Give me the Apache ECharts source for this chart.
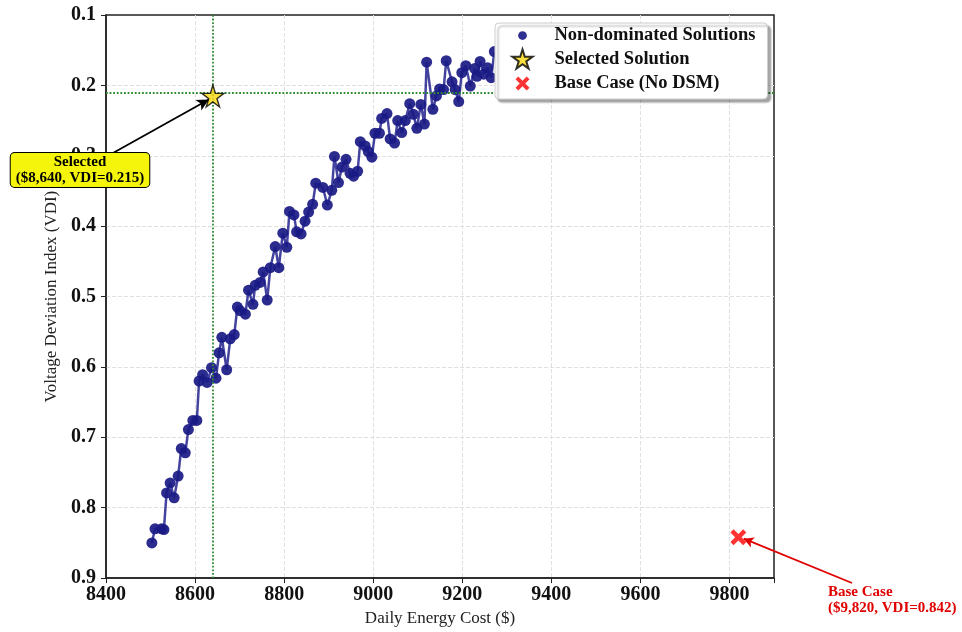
<!DOCTYPE html>
<html>
<head>
<meta charset="utf-8">
<script src="https://cdn.jsdelivr.net/npm/echarts@6/dist/echarts.min.js"></script>
<style>
  html, body { margin: 0; padding: 0; background: #fff; }
  #main { width: 962px; height: 632px; }
</style>
</head>
<body>
<div id="main"></div>
<script type="text/javascript">
  // Pareto front: daily cost vs VDI
  var cost = [8503,8510,8525,8530,8536,8544,8553,8562,8569,8578,8585,8595,8604,8609,8617,8627,8637,8647,8654,8660,
              8671,8679,8688,8695,8701,8713,8720,8730,8735,8746,8753,8762,8769,8780,8788,8797,8806,8812,8822,8828,
              8838,8847,8855,8864,8871,8887,8897,8907,8913,8922,8930,8939,8948,8956,8965,8971,8982,8989,8997,9004,
              9014,9019,9031,9038,9048,9055,9064,9072,9082,9090,9098,9107,9115,9120,9134,9142,9149,9158,9164,9177,
              9184,9192,9199,9208,9218,9228,9233,9240,9248,9257,9265,9272];
  var vdi = [0.850,0.830,0.830,0.831,0.779,0.765,0.786,0.755,0.716,0.722,0.689,0.676,0.676,0.620,0.611,0.622,0.601,0.616,0.580,0.558,
             0.604,0.560,0.554,0.515,0.520,0.525,0.491,0.511,0.484,0.480,0.465,0.505,0.459,0.429,0.459,0.410,0.430,0.379,0.384,0.408,
             0.411,0.393,0.380,0.369,0.339,0.345,0.370,0.349,0.301,0.338,0.316,0.305,0.325,0.329,0.322,0.280,0.286,0.294,0.302,0.268,
             0.268,0.247,0.240,0.276,0.282,0.250,0.267,0.250,0.226,0.241,0.261,0.227,0.255,0.167,0.234,0.215,0.205,0.206,0.165,0.195,
             0.206,0.223,0.182,0.172,0.201,0.176,0.187,0.166,0.184,0.175,0.189,0.152];
  var selected = [8640, 0.215];
  var baseCase = [9820, 0.842];
  var xTicks = [8400, 8600, 8800, 9000, 9200, 9400, 9600, 9800];

  var serif = '"Liberation Serif", "DejaVu Serif", serif';
  var starPath = 'path://M50,0 L61,35 L98,35 L68,57 L79,91 L50,70 L21,91 L32,57 L2,35 L39,35 Z';
  var crossPath = 'path://M2,0 L5,3 L8,0 L10,2 L7,5 L10,8 L8,10 L5,7 L2,10 L0,8 L3,5 L0,2 Z';
  // legend icons padded with empty moves so they come out smaller
  var legendDot = 'path://M0,0 M24,24 M12,7 A5,5 0 1,1 12,17 A5,5 0 1,1 12,7 Z';
  var legendCross = 'path://M0,0 M24,24 M7.2,4 L12,8.8 L16.8,4 L20,7.2 L15.2,12 L20,16.8 L16.8,20 L12,15.2 L7.2,20 L4,16.8 L8.8,12 L4,7.2 Z';
  var legendStar = 'path://M0,-2 M100,98 M50,0 L61,35 L98,35 L68,57 L79,91 L50,70 L21,91 L32,57 L2,35 L39,35 Z';

  var front = cost.map(function (c, i) { return [c, vdi[i]]; });

  var myChart = echarts.init(document.getElementById('main'));
  var option = {
    animation: false,
    backgroundColor: '#fff',
    grid: {
      left: 106, right: 188, top: 15, bottom: 50,
      show: true, borderColor: '#222', borderWidth: 1.5, backgroundColor: 'transparent'
    },
    legend: {
      orient: 'vertical',
      left: 495, top: 23,
      z: 20,
      backgroundColor: '#fff',
      borderColor: '#ccc', borderWidth: 1, borderRadius: 4,
      shadowColor: 'rgba(0,0,0,0.35)', shadowOffsetX: 3, shadowOffsetY: 3, shadowBlur: 2,
      padding: [2, 12, 5, 16],
      itemGap: 2, itemWidth: 24, itemHeight: 21,
      textStyle: { fontFamily: serif, fontWeight: 'bold', fontSize: 18.5, color: '#111', padding: [0, 0, 0, 15] },
      data: [
        { name: 'Non-dominated Solutions', icon: legendDot, itemStyle: { color: '#1e1e8a' } },
        { name: 'Selected Solution', icon: legendStar },
        { name: 'Base Case (No DSM)', icon: legendCross }
      ]
    },
    xAxis: {
      type: 'value',
      min: 8400, max: 9900, interval: 200,
      name: 'Daily Energy Cost ($)',
      nameLocation: 'middle', nameGap: 28,
      nameTextStyle: { fontFamily: serif, fontSize: 17, color: '#222' },
      axisLine: { show: true, lineStyle: { color: '#222', width: 1.5 } },
      axisTick: { show: true, length: 5, lineStyle: { color: '#222' } },
      axisLabel: {
        fontFamily: serif, fontWeight: 'bold', fontSize: 20, color: '#111', margin: 7,
        formatter: function (v) { return xTicks.indexOf(v) >= 0 ? String(v) : ''; }
      },
      splitLine: { show: true, showMinLine: false, showMaxLine: false,
                   lineStyle: { color: '#e0e0e0', type: 'dashed', width: 1 } }
    },
    yAxis: {
      type: 'value',
      inverse: true,
      min: 0.1, max: 0.9, interval: 0.1,
      name: 'Voltage Deviation Index (VDI)',
      nameLocation: 'middle', nameGap: 45,
      nameTextStyle: { fontFamily: serif, fontSize: 17, color: '#222' },
      axisLine: { show: true, lineStyle: { color: '#222', width: 1.5 } },
      axisTick: { show: true, length: 5, lineStyle: { color: '#222' } },
      axisLabel: {
        fontFamily: serif, fontWeight: 'bold', fontSize: 20, color: '#111', margin: 10,
        formatter: function (v) { return v.toFixed(1); }
      },
      splitLine: { show: true, showMinLine: false, showMaxLine: false,
                   lineStyle: { color: '#e0e0e0', type: 'dashed', width: 1 } }
    },
    series: [
      {
        name: 'Non-dominated Solutions',
        type: 'line',
        data: front,
        symbol: 'circle',
        symbolSize: 11,
        clip: false,
        z: 3,
        lineStyle: { color: '#23238f', width: 2.5, opacity: 0.85 },
        itemStyle: { color: '#1a1a85', opacity: 0.92 },
        markLine: {
          silent: true,
          symbol: ['none', 'none'],
          label: { show: false },
          lineStyle: { color: '#2e8b2e', type: 'dotted', width: 1.8 },
          data: [{ xAxis: selected[0] }, { yAxis: selected[1] }]
        }
      },
      {
        name: 'Selected Solution',
        type: 'scatter',
        data: [selected],
        symbol: starPath,
        symbolSize: 22,
        clip: false,
        z: 6,
        itemStyle: { color: '#f7d70f', borderColor: '#000', borderWidth: 1.4 },
        markLine: {
          silent: true,
          symbol: ['none', 'arrow'],
          symbolSize: [9, 12],
          label: { show: false },
          lineStyle: { color: '#000', type: 'solid', width: 1.8 },
          data: [[{ x: 113, y: 153 }, { coord: [selected[0] - 9, selected[1] + 0.005] }]]
        }
      },
      {
        name: 'Base Case (No DSM)',
        type: 'scatter',
        data: [baseCase],
        symbol: crossPath,
        symbolSize: 16,
        clip: false,
        z: 6,
        itemStyle: { color: '#ff0000' },
        markLine: {
          silent: true,
          symbol: ['none', 'arrow'],
          symbolSize: [8, 10],
          label: { show: false },
          lineStyle: { color: '#e00000', type: 'solid', width: 1.8 },
          data: [[{ x: 852, y: 583 }, { coord: [baseCase[0] + 12, baseCase[1] + 0.002] }]]
        }
      }
    ],
    graphic: [
      {
        type: 'text',
        x: 80, y: 170,
        z: 30,
        style: {
          text: 'Selected\n($8,640, VDI=0.215)',
          font: 'bold 15px ' + serif,
          fill: '#000',
          align: 'center',
          verticalAlign: 'middle',
          lineHeight: 16,
          backgroundColor: '#f5f50c',
          borderColor: '#000', borderWidth: 1, borderRadius: 4,
          padding: [1, 5, 1, 5]
        }
      },
      {
        type: 'text',
        x: 828, y: 584,
        z: 30,
        style: {
          text: 'Base Case\n($9,820, VDI=0.842)',
          font: 'bold 15px ' + serif,
          fill: '#e00000',
          align: 'left',
          lineHeight: 16
        }
      }
    ]
  };
  myChart.setOption(option);
</script>
</body>
</html>
